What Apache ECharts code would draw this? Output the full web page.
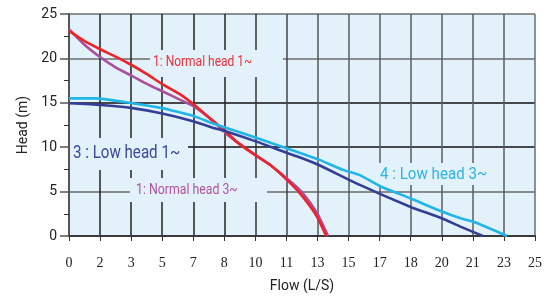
<!DOCTYPE html>
<html>
<head>
<meta charset="utf-8">
<script src="https://cdn.jsdelivr.net/npm/echarts@6/dist/echarts.min.js"></script>
<style>
  html, body { margin: 0; padding: 0; background: #fff; }
  #chart { width: 555px; height: 297px; }
</style>
</head>
<body>
<div id="chart"></div>
<script>
// tick labels printed under the flow axis (15 equal steps from 0 to 25)
const flowTickLabels = ["0", "2", "3", "5", "7", "8", "10", "11", "13", "15", "17", "18", "20", "21", "23", "25"];

// 1: Normal head 1~  (red)
const normal1Flow = [0, 0.8, 1.7, 2.5, 3.4, 4.2, 5.0, 6.0, 6.7, 7.7, 8.3, 9.0, 10.0, 10.8, 11.9, 12.55, 13.3, 13.8];
const normal1Head = [23.1, 22.0, 21.0, 20.2, 19.2, 18.2, 17.1, 15.9, 14.8, 13.0, 12.0, 10.6, 9.1, 8.0, 5.9, 4.4, 2.2, 0];

// 1: Normal head 3~  (purple)
const normal3Flow = [0, 0.8, 1.7, 2.5, 3.4, 4.2, 5.0, 6.0, 6.7, 7.7, 8.4, 9.0, 10.0, 10.8, 11.9, 12.55, 13.3, 13.9];
const normal3Head = [23.3, 21.6, 20.1, 19.0, 18.0, 17.1, 16.3, 15.3, 14.6, 13.0, 11.6, 10.6, 9.1, 8.0, 6.1, 4.8, 2.6, 0];

// 3 : Low head 1~  (navy)
const low1Flow = [0, 1.7, 3.4, 5.0, 6.7, 7.7, 8.4, 10.1, 11.7, 12.4, 13.4, 15.6, 18.3, 20.0, 21.0, 22.2];
const low1Head = [14.95, 14.75, 14.4, 13.8, 12.9, 12.2, 11.8, 10.6, 9.35, 8.85, 8.0, 5.75, 3.3, 2.0, 1.05, 0];

// 4 : Low head 3~  (cyan)
const low3Flow = [0, 1.4, 3.4, 5.0, 5.4, 6.7, 7.7, 8.4, 10.0, 11.7, 12.4, 13.4, 14.7, 15.6, 16.7, 18.3, 20.0, 21.0, 21.7, 23.5];
const low3Head = [15.5, 15.5, 14.95, 14.4, 14.2, 13.5, 12.7, 12.2, 11.1, 9.85, 9.35, 8.6, 7.45, 6.85, 5.6, 4.25, 2.75, 2.0, 1.6, 0];

const bg = "#e3f1fb";
const sans = "Roboto, sans-serif";

function pairs(xs, ys) {
  return xs.map((x, i) => [x, ys[i]]);
}

function curve(name, color, xs, ys) {
  return {
    name: name,
    type: "line",
    data: pairs(xs, ys),
    showSymbol: false,
    smooth: 0.2,
    lineStyle: { color: color, width: 2.6 },
    z: 3,
  };
}

// narrow label drawn with a horizontal squeeze (the original uses a condensed face)
function label(text, x, y, size, squeeze, color) {
  return {
    type: "text",
    z: 4,
    x: x,
    y: y,
    scaleX: squeeze,
    style: { text: text, fill: color, font: size + "px " + sans, verticalAlign: "top" },
  };
}

const chart = echarts.init(document.getElementById("chart"));

const option = {
  animation: false,
  grid: {
    left: 69,
    right: 20,
    top: 14,
    bottom: 61,
    outerBoundsMode: "none",
    show: true,
    backgroundColor: bg,
    borderWidth: 0,
  },
  xAxis: {
    type: "value",
    min: 0,
    max: 25,
    interval: 25 / 15,
    name: "Flow (L/S)",
    nameLocation: "middle",
    nameGap: 43,
    nameTextStyle: { fontFamily: "Roboto", fontSize: 14, color: "#222" },
    axisLine: { show: true, lineStyle: { color: "#3a3a3a", width: 2 } },
    axisTick: { show: true, length: 5, lineStyle: { color: "#333" } },
    axisLabel: {
      margin: 20,
      fontFamily: "serif",
      fontSize: 14,
      color: "#222",
      formatter: (v) => flowTickLabels[Math.round(v / (25 / 15))],
    },
    splitLine: {
      show: true,
      lineStyle: {
        color: ["#222", "#222", "#222", "#222", "#222", "#222", "#333", "#444", "#555", "#5a5e61", "#5a5e61", "#5a5e61", "#5a5e61", "#5a5e61", "#5a5e61", "#6b6f72"],
        width: 1.5,
      },
    },
  },
  yAxis: {
    type: "value",
    min: 0,
    max: 25,
    interval: 5,
    name: "Head (m)",
    nameLocation: "middle",
    nameGap: 36,
    nameTextStyle: { fontFamily: "Roboto", fontSize: 14, color: "#222" },
    axisLine: { show: true, lineStyle: { color: "#555", width: 2 } },
    axisTick: { show: true, length: 9, lineStyle: { color: "#555", width: 1.5 } },
    minorTick: { show: true, splitNumber: 2, length: 5, lineStyle: { color: "#333" } },
    axisLabel: { margin: 12, fontFamily: "Roboto", fontSize: 14, color: "#222" },
    splitLine: {
      show: true,
      lineStyle: {
        color: ["#444", "#6a6a6a", "#111", "#111", "#6d6d6d", "#6d6d6d"],
        width: 1.5,
      },
    },
  },
  graphic: [
    // light boxes behind the curve labels that break the grid lines
    { type: "rect", z: 1, shape: { x: 150, y: 50, width: 133, height: 27 }, style: { fill: bg } },
    { type: "rect", z: 1, shape: { x: 70, y: 138, width: 118, height: 32 }, style: { fill: bg } },
    { type: "rect", z: 1, shape: { x: 130, y: 178, width: 137, height: 24 }, style: { fill: bg } },
    { type: "rect", z: 1, shape: { x: 377, y: 163, width: 110, height: 22 }, style: { fill: bg } },
    label("1: Normal head 1~", 153, 55, 15, 0.8, "#e8333b"),
    label("3 : Low head 1~", 73, 144, 18, 0.84, "#3c4898"),
    label("1: Normal head 3~", 136, 183, 15, 0.82, "#b0529e"),
    label("4 : Low head 3~", 380, 166, 17, 0.89, "#2bb5e6"),
  ],
  series: [
    curve("1: Normal head 3~", "#a9509d", normal3Flow, normal3Head),
    curve("1: Normal head 1~", "#ee2229", normal1Flow, normal1Head),
    curve("3 : Low head 1~", "#333f94", low1Flow, low1Head),
    curve("4 : Low head 3~", "#20b6e8", low3Flow, low3Head),
  ],
};

chart.setOption(option);
</script>
</body>
</html>
